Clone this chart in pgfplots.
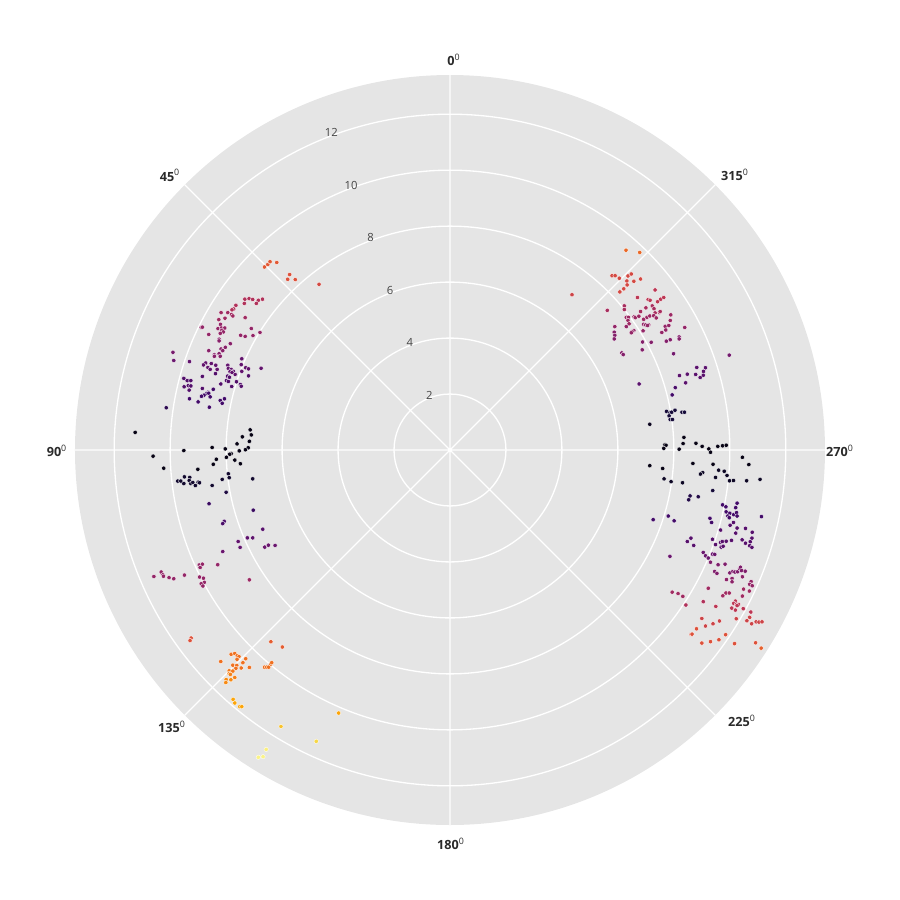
\documentclass[border=0pt]{standalone}
\usepackage{pgfplots}
\pgfplotsset{compat=1.18}
\usepackage{pgfplotstable}
\usepgfplotslibrary{polar}
\usepackage{fontspec}
\setmainfont{Open Sans}
\definecolor{bgc}{RGB}{229,229,229}
\definecolor{labc}{RGB}{42,42,42}
\definecolor{rlabc}{RGB}{68,68,68}
\newcommand{\dg}{\textsuperscript{\mdseries 0}}
\tikzset{rtick/.style={font=\fontsize{6.4}{7}\selectfont, text=rlabc, inner sep=0pt},
  atick/.style={font=\fontsize{7.2}{8}\selectfont\bfseries, text=labc, inner sep=0pt}}
\pgfplotstableread{
x y c
-6.63 6.54 .62
-6.51 6.63 .62
-6.43 6.73 .62
-6.19 6.70 .62
-5.73 6.27 .60
-5.80 6.10 .60
-5.53 6.09 .60
-4.68 5.92 .57
-7.33 5.39 .47
-7.18 5.41 .47
-7.05 5.38 .47
-6.85 5.35 .47
-6.70 5.39 .47
-7.35 5.24 .47
-6.92 5.24 .47
-7.65 5.17 .47
-7.73 5.04 .47
-7.79 5.01 .47
-8.18 4.91 .43
-7.94 4.91 .43
-7.81 4.84 .43
-7.76 4.79 .43
-8.26 4.66 .43
-8.04 4.71 .43
-7.32 4.73 .43
-8.20 4.49 .40
-8.89 4.38 .40
-8.85 4.39 .40
-8.29 4.34 .40
-8.17 4.36 .40
-8.05 4.36 .40
-8.15 4.28 .40
-8.10 4.22 .40
-8.21 4.17 .40
-7.10 4.34 .40
-8.62 4.13 .40
-7.48 4.10 .40
-7.32 4.06 .40
-7.04 4.09 .40
-6.79 4.20 .40
-8.25 3.96 .37
-8.25 3.90 .37
-7.85 3.80 .37
-8.18 3.61 .37
-8.03 3.67 .37
-8.12 3.55 .37
-8.62 3.55 .37
-8.25 3.44 .37
-8.42 3.40 .37
-8.42 3.35 .37
-8.21 3.35 .37
-9.90 3.49 .33
-9.87 3.20 .30
-9.31 3.16 .28
-7.44 3.26 .28
-8.73 3.11 .28
-8.53 3.09 .28
-8.81 3.04 .28
-8.37 3.03 .28
-8.65 2.95 .28
-8.57 2.88 .28
-8.32 2.88 .28
-7.94 3.03 .28
-7.92 2.92 .28
-7.82 2.88 .28
-7.86 2.80 .28
-7.74 2.81 .28
-7.68 2.70 .28
-7.79 2.77 .28
-7.46 3.05 .28
-7.44 2.81 .28
-7.30 2.94 .28
-7.20 2.90 .28
-6.75 2.92 .28
-7.20 2.65 .24
-8.38 2.73 .24
-8.85 2.63 .24
-9.51 2.56 .24
-9.39 2.48 .24
-9.26 2.48 .24
-9.50 2.26 .24
-9.35 2.30 .24
-9.26 2.29 .24
-9.32 2.14 .24
-7.95 2.64 .24
-7.88 2.60 .24
-7.99 2.48 .24
-7.92 2.45 .24
-7.63 2.44 .24
-8.19 2.36 .24
-7.49 2.34 .24
-7.46 2.28 .24
-7.80 2.27 .24
-8.85 2.20 .24
-8.46 2.17 .20
-8.65 2.06 .20
-8.69 2.02 .20
-8.62 2.03 .20
-8.79 1.96 .20
-8.88 1.92 .20
-8.57 1.90 .20
-9.31 1.83 .20
-9.00 1.72 .20
-8.21 1.77 .20
-8.06 1.83 .20
-8.14 1.67 .20
-8.60 1.53 .20
-10.14 1.51 .15
-11.25 0.63 .03
-7.14 0.72 .03
-7.10 0.54 .03
-7.42 0.47 .03
-7.17 0.31 .03
-7.61 0.22 .03
-8.50 0.09 .03
-8.03 0.04 .03
-7.21 0.08 .03
-7.31 0.01 .03
-7.53 -0.03 .03
-9.51 -0.02 .03
-10.61 -0.22 .03
-7.82 -0.13 .03
-7.87 -0.15 .03
-7.99 -0.26 .03
-8.35 -0.33 .03
-7.69 -0.36 .03
-8.46 -0.51 .03
-7.49 -0.49 .03
-10.23 -0.65 .03
-9.01 -0.69 .03
-7.92 -0.85 .08
-9.49 -0.96 .08
-9.30 -0.98 .08
-9.73 -1.11 .08
-9.62 -1.11 .08
-9.32 -1.09 .08
-9.51 -1.20 .08
-9.26 -1.20 .08
-9.19 -1.16 .08
-9.00 -1.15 .08
-8.95 -1.17 .08
-9.10 -1.27 .08
-8.14 -1.05 .08
-7.89 -0.99 .08
-7.05 -1.03 .08
-8.50 -1.27 .08
-8.00 -1.51 .12
-8.61 -1.92 .18
-7.03 -2.15 .18
-8.07 -2.55 .22
-8.12 -2.63 .22
-6.69 -2.83 .25
-7.24 -3.14 .27
-7.05 -3.14 .27
-7.57 -3.27 .28
-7.50 -3.48 .28
-6.62 -3.47 .30
-6.49 -3.40 .30
-6.25 -3.41 .30
-8.12 -3.63 .30
-8.96 -4.11 .40
-8.85 -4.08 .40
-8.93 -4.20 .40
-8.30 -4.10 .40
-10.32 -4.36 .40
-10.26 -4.46 .40
-10.24 -4.51 .40
-10.58 -4.52 .40
-10.04 -4.56 .40
-9.87 -4.60 .40
-9.49 -4.47 .40
-8.95 -4.54 .40
-8.81 -4.58 .40
-8.78 -4.73 .40
-8.89 -4.78 .40
-8.83 -4.86 .40
-7.17 -4.64 .42
-9.25 -6.72 .60
-9.29 -6.81 .60
-6.40 -6.85 .63
-5.99 -7.04 .63
-7.82 -7.30 .68
-7.69 -7.27 .68
-7.60 -7.35 .68
-7.54 -7.38 .68
-7.61 -7.48 .68
-7.30 -7.46 .68
-8.19 -7.56 .68
-7.40 -7.60 .68
-7.76 -7.69 .68
-7.62 -7.70 .68
-7.65 -7.80 .68
-7.46 -7.79 .68
-7.17 -7.77 .68
-7.89 -7.89 .70
-7.76 -7.90 .70
-7.89 -7.99 .72
-7.85 -8.02 .72
-6.63 -7.76 .68
-6.55 -7.76 .68
-6.48 -7.76 .68
-6.40 -7.65 .68
-6.37 -7.60 .68
-7.69 -8.13 .72
-7.83 -8.21 .74
-8.00 -8.20 .74
-8.01 -8.31 .74
-7.75 -8.91 .80
-7.69 -9.04 .80
-7.51 -9.17 .80
-7.44 -9.17 .80
-3.98 -9.40 .80
-6.04 -9.88 .86
-4.78 -10.41 .90
-6.57 -10.70 .96
-6.68 -10.96 .97
-6.85 -10.98 .97
6.29 7.14 .66
6.78 7.06 .66
5.79 6.23 .57
5.90 6.23 .57
6.05 6.14 .57
6.36 6.22 .57
6.48 6.29 .57
6.32 6.04 .57
6.57 6.03 .57
6.81 6.11 .57
6.33 5.90 .57
6.21 5.76 .57
6.07 5.65 .57
4.36 5.55 .55
7.33 5.72 .50
6.70 5.45 .50
7.08 5.38 .50
7.15 5.35 .50
7.42 5.30 .50
7.53 5.39 .50
7.64 5.45 .50
6.23 5.15 .45
6.23 5.02 .45
5.62 4.99 .45
7.00 5.08 .45
7.23 5.15 .45
7.29 5.05 .45
6.81 4.95 .45
7.33 4.90 .45
7.49 4.91 .45
7.51 4.95 .45
6.30 4.74 .42
6.38 4.74 .42
6.58 4.76 .42
6.62 4.73 .42
6.75 4.78 .42
6.92 4.67 .42
7.04 4.74 .42
7.14 4.79 .42
7.28 4.80 .42
7.37 4.72 .42
7.89 4.83 .42
6.36 4.63 .42
6.40 4.51 .42
7.87 4.63 .42
6.92 4.49 .40
6.99 4.47 .40
7.10 4.47 .40
7.06 4.45 .40
7.69 4.42 .40
7.82 4.45 .40
8.39 4.38 .40
6.30 4.41 .40
5.89 4.41 .40
6.90 4.26 .40
6.57 4.27 .40
6.51 4.23 .40
6.48 4.19 .40
7.71 4.29 .40
7.57 4.20 .40
5.87 4.21 .36
5.89 4.10 .36
5.87 3.97 .36
8.19 4.04 .36
8.19 3.97 .36
7.87 3.94 .36
7.73 3.89 .36
6.88 3.86 .36
7.19 3.85 .36
6.87 3.58 .36
6.14 3.47 .36
6.19 3.41 .36
7.99 3.44 .32
9.98 3.39 .32
8.82 2.95 .26
9.13 2.94 .26
9.06 2.81 .26
8.48 2.71 .26
8.20 2.66 .26
8.78 2.70 .26
9.05 2.67 .26
8.94 2.59 .26
8.42 2.40 .26
6.76 2.36 .26
8.05 2.23 .22
7.94 1.97 .20
7.74 1.38 .10
7.86 1.34 .10
7.92 1.35 .10
8.04 1.42 .10
8.29 1.35 .10
8.38 1.35 .10
7.83 1.22 .10
7.87 1.09 .10
7.95 1.09 .10
7.14 0.92 .05
8.36 0.45 .03
8.33 0.23 .03
7.68 0.19 .03
7.72 0.17 .03
7.64 0.06 .03
8.19 0.03 .03
8.79 0.24 .03
9.01 0.13 .03
9.25 0.04 .03
9.31 -0.08 .03
9.57 0.13 .03
9.74 0.15 .03
9.87 0.17 .03
10.45 -0.26 .03
10.68 -0.52 .03
7.14 -0.56 .03
7.60 -0.66 .03
8.68 -0.48 .03
9.40 -0.51 .03
9.60 -0.72 .06
9.80 -0.76 .06
9.03 -0.81 .06
8.95 -0.86 .06
9.90 -0.91 .06
9.49 -0.98 .06
9.99 -1.10 .06
10.13 -1.09 .06
10.60 -1.10 .06
11.08 -1.05 .06
7.65 -1.03 .06
7.90 -1.13 .06
8.31 -1.17 .06
9.39 -1.45 .10
8.58 -1.64 .13
8.53 -1.78 .13
8.87 -1.67 .13
9.74 -1.96 .20
9.86 -2.03 .20
10.26 -1.90 .20
10.21 -2.06 .20
9.87 -2.21 .20
10.00 -2.26 .20
9.93 -2.36 .20
9.98 -2.42 .20
10.14 -2.31 .20
10.24 -2.24 .20
10.26 -2.36 .20
11.13 -2.38 .20
7.26 -2.49 .20
7.80 -2.36 .20
8.01 -2.53 .20
9.29 -2.44 .20
9.35 -2.59 .20
10.13 -2.59 .25
10.01 -2.69 .25
10.26 -2.79 .25
10.56 -2.80 .25
9.67 -2.86 .25
10.21 -2.97 .25
10.80 -2.94 .25
10.79 -3.15 .25
10.44 -3.21 .25
10.56 -3.33 .25
10.73 -3.28 .25
10.71 -3.42 .25
10.79 -3.48 .25
8.61 -3.15 .25
8.48 -3.27 .25
8.71 -3.41 .25
9.38 -3.19 .25
9.49 -3.38 .25
9.67 -3.30 .25
9.73 -3.27 .25
9.69 -3.47 .25
9.76 -3.44 .25
9.87 -3.26 .25
10.06 -3.23 .25
9.05 -3.66 .30
9.13 -3.78 .30
9.23 -3.86 .30
9.38 -3.72 .30
9.46 -3.73 .30
7.86 -3.80 .30
9.31 -4.01 .35
9.58 -4.10 .35
9.83 -4.08 .35
9.46 -4.34 .35
9.54 -4.41 .35
10.00 -4.39 .35
10.11 -4.34 .35
10.18 -4.36 .35
10.28 -4.35 .35
10.35 -4.24 .35
10.38 -4.19 .35
10.42 -4.31 .35
10.55 -4.33 .35
10.45 -4.53 .38
9.88 -4.63 .38
10.08 -4.59 .38
10.08 -4.71 .38
10.76 -4.70 .40
10.71 -4.80 .40
10.80 -4.85 .40
9.23 -4.94 .43
10.49 -4.97 .43
10.70 -5.04 .43
7.94 -5.08 .43
8.15 -5.13 .43
8.32 -5.23 .43
8.43 -5.54 .47
9.05 -5.42 .47
9.86 -5.11 .43
9.98 -5.11 .43
9.75 -5.21 .43
10.45 -5.22 .43
9.50 -5.59 .50
10.20 -5.40 .50
10.14 -5.48 .50
10.24 -5.51 .50
10.31 -5.52 .50
10.26 -5.56 .50
10.07 -5.65 .50
10.20 -5.72 .50
10.48 -5.67 .50
10.75 -5.79 .50
9.00 -6.02 .55
9.63 -6.11 .55
9.40 -6.21 .55
9.13 -6.29 .55
10.23 -6.03 .55
10.71 -5.98 .55
10.61 -6.10 .55
10.78 -6.21 .55
10.94 -6.14 .55
11.04 -6.15 .55
11.15 -6.14 .55
8.81 -6.39 .60
8.62 -6.59 .60
8.65 -6.58 .60
9.85 -6.60 .60
9.61 -6.78 .60
9.31 -6.85 .60
9.00 -6.90 .60
10.17 -6.92 .60
10.92 -6.89 .60
11.12 -7.08 .64
}\pts
\begin{document}
\begin{tikzpicture}
\begin{polaraxis}[
  at={(0,0)}, anchor=center,
  width=15cm, height=15cm, scale only axis,
  ymin=0, ymax=13.4,
  xtick={0,45,...,315},
  xticklabels={},
  ytick={2,4,...,12},
  yticklabels={},
  grid=major,
  major grid style={draw=white, line width=0.75pt},
  axis line style={draw=none},
  axis background/.style={fill=bgc},
  tick style={draw=none},
  colormap={inferno}{rgb255=(0,0,4) rgb255=(22,11,57) rgb255=(66,10,104) rgb255=(106,23,110) rgb255=(147,38,103) rgb255=(188,55,84) rgb255=(221,81,58) rgb255=(243,120,25) rgb255=(252,165,10) rgb255=(246,215,70) rgb255=(252,255,164)},
  point meta min=0, point meta max=1,
]
\addplot[scatter, only marks, mark=*, mark size=1.25pt, data cs=cart,
  scatter/use mapped color={draw=white, fill=mapped color},
  mark options={line width=0.2pt},
  point meta=explicit] table[x=x, y=y, meta=c] {\pts};
\node[rtick] at (axis cs:110.5,2.1) {2};
\node[rtick] at (axis cs:110.5,4.1) {4};
\node[rtick] at (axis cs:110.5,6.1) {6};
\node[rtick] at (axis cs:110.5,8.1) {8};
\node[rtick] at (axis cs:110.5,10.1) {10};
\node[rtick] at (axis cs:110.5,12.1) {12};
\coordinate (O) at (axis cs:0,0);
\end{polaraxis}
\node[atick] at ([shift={(0.08cm,7.81cm)}]O) {0\dg};
\node[atick] at ([shift={(-5.60cm,5.49cm)}]O) {45\dg};
\node[atick] at ([shift={(-7.86cm,-0.01cm)}]O) {90\dg};
\node[atick] at ([shift={(-5.56cm,-5.53cm)}]O) {135\dg};
\node[atick] at ([shift={(0.02cm,-7.87cm)}]O) {180\dg};
\node[atick] at ([shift={(5.84cm,-5.42cm)}]O) {225\dg};
\node[atick] at ([shift={(7.80cm,-0.01cm)}]O) {270\dg};
\node[atick] at ([shift={(5.70cm,5.51cm)}]O) {315\dg};
\pgfresetboundingbox
\path (O) ++(-9cm,-9cm) rectangle ++(18cm,18cm);
\end{tikzpicture}
\end{document}
